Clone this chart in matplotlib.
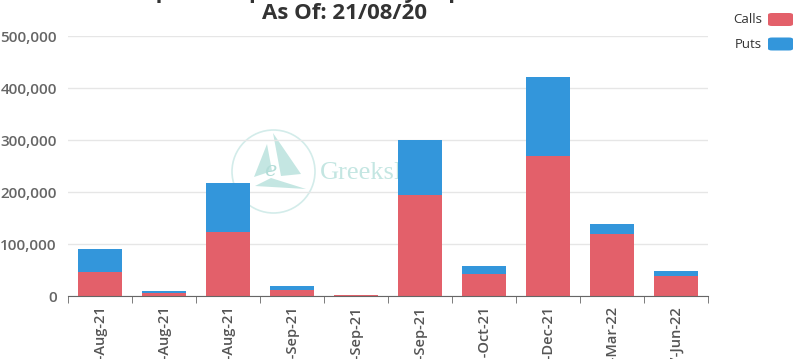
import matplotlib
matplotlib.use("Agg")
import matplotlib.pyplot as plt
from matplotlib.patches import FancyBboxPatch, Ellipse, Polygon
from matplotlib.ticker import FuncFormatter, FixedLocator
import numpy as np

# data
expiries = ["20-Aug-21", "27-Aug-21", "31-Aug-21", "03-Sep-21", "10-Sep-21",
            "17-Sep-21", "15-Oct-21", "17-Dec-21", "18-Mar-22", "17-Jun-22"]
calls = [46000, 5000, 123000, 12000, 1000, 194000, 42000, 270000, 119000, 39000]
puts = [45000, 4000, 94000, 7000, 1000, 106000, 16000, 151000, 19000, 8500]

title1 = "Options Open Interest by Expiration"
title2 = "As Of: 21/08/20"

red = "#e3606a"
blue = "#3396db"

W, H = 803, 359
fig = plt.figure(figsize=(W / 100, H / 100), dpi=100)
ax = fig.add_axes([68 / W, 63 / H, 640 / W, 260 / H])

def px(x, y):
    # pixel position (from top-left) -> figure fraction
    return (x / W, 1 - y / H)

# watermark, sits behind the bars
teal = "#c4e6e2"
fig.patches.append(Ellipse(px(273.5, 171.5), 83 / W, 83 / H, transform=fig.transFigure,
                           fill=False, ec="#d3ecea", lw=1.2, zorder=-1))
for pts in [[(273, 133), (301, 174), (281, 176)],
            [(267, 144), (254, 177), (272, 171)],
            [(255, 186), (306, 189), (271, 178)]]:
    fig.patches.append(Polygon([px(*p) for p in pts], closed=True,
                               transform=fig.transFigure, fc=teal, ec="none", zorder=-1))
fig.text(*px(264, 176), "e", fontsize=15, family="DejaVu Serif", style="italic",
         color="#b3ddd8", zorder=-1)
fig.text(*px(320, 179), "GreeksLive", fontsize=19, family="Liberation Serif",
         color=teal, zorder=-1)
ax.set_facecolor("none")

x = np.arange(len(expiries))
ax.bar(x, calls, width=0.69, color=red, zorder=3)
ax.bar(x, puts, width=0.69, bottom=calls, color=blue, zorder=3)

ax.set_xlim(-0.5, len(expiries) - 0.5)
ax.set_ylim(0, 500000)
ax.yaxis.set_major_locator(FixedLocator(np.arange(0, 500001, 100000)))
ax.yaxis.set_major_formatter(FuncFormatter(lambda v, p: f"{int(v):,}"))
ax.grid(axis="y", color="#e6e6e6", lw=1, zorder=0)
ax.set_axisbelow(True)

for s in ["top", "right", "left"]:
    ax.spines[s].set_visible(False)
ax.spines["bottom"].set_color("#666666")
ax.spines["bottom"].set_zorder(4)

ax.set_xticks(x)
ax.set_xticklabels(expiries, rotation=90, fontsize=10.5, family="Open Sans",
                   fontweight="semibold", color="#555555")
ax.set_xticks(np.arange(-0.5, len(expiries), 1), minor=True)
ax.tick_params(axis="x", which="major", length=0, pad=6.5)
ax.tick_params(axis="x", which="minor", length=5, color="#666666")
ax.tick_params(axis="y", length=0, pad=8)
for lab in ax.get_yticklabels():
    lab.set_family("Open Sans")
    lab.set_fontweight("semibold")
    lab.set_fontsize(11)
    lab.set_color("#666666")

# title, top line is cut off by the frame
fig.text(*px(338, -2.5), title1, ha="center", va="baseline", fontsize=16,
         family="Open Sans", fontweight="bold", color="#333333")
fig.text(*px(345, 19), title2, ha="center", va="baseline", fontsize=16,
         family="Open Sans", fontweight="bold", color="#333333")

# legend drawn by hand, text left of rounded swatches
for i, (name, col) in enumerate([("Calls", red), ("Puts", blue)]):
    yc = 19.5 + i * 24.5
    fig.text(*px(762, yc), name, ha="right", va="center", fontsize=9.5,
             family="Open Sans", color="#333333")
    x0, y0 = px(768, yc + 6.5)
    fig.patches.append(FancyBboxPatch((x0, y0), 25 / W, 13 / H,
                                      boxstyle="round,pad=0,rounding_size=0.005",
                                      transform=fig.transFigure, fc=col, ec="none"))

fig.savefig("out.png", dpi=100)
